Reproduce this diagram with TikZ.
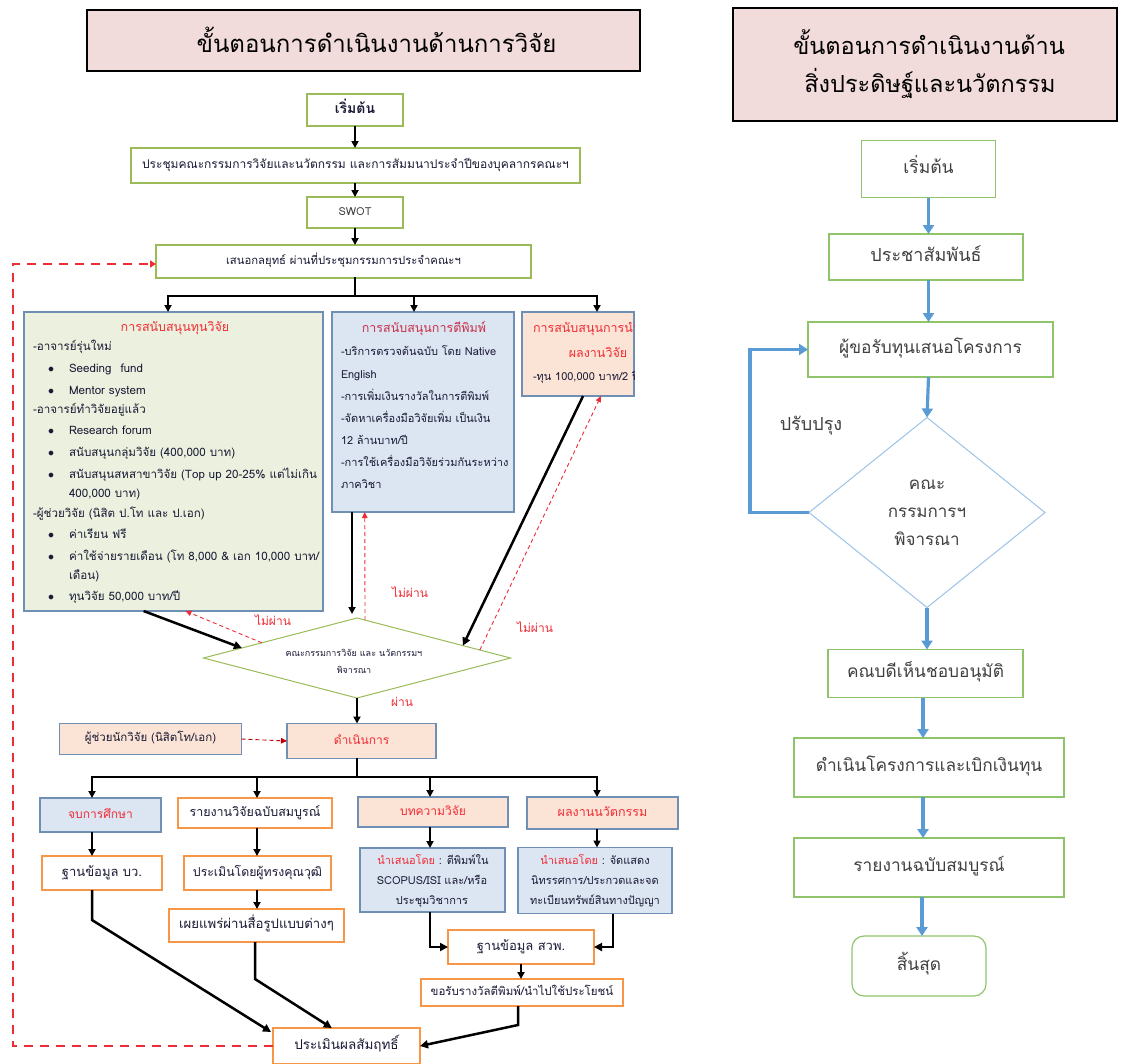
\documentclass[tikz,border=0pt]{standalone}
\usepackage{fontspec}
\setmainfont{Loma}[Script=Thai]
\usetikzlibrary{arrows.meta,shapes.geometric,calc}

\definecolor{pinkfill}{HTML}{F2DCDB}
\definecolor{gfill}{HTML}{EBF1DE}
\definecolor{bfill}{HTML}{DCE6F2}
\definecolor{pfill}{HTML}{FBE4D5}
\definecolor{bborder}{HTML}{6F8FB5}
\definecolor{gborder}{HTML}{9BBB59}
\definecolor{oborder}{HTML}{F79646}
\definecolor{redtxt}{HTML}{F02C36}
\definecolor{crimson}{HTML}{C8304A}
\definecolor{darkred}{HTML}{C00000}
\definecolor{navy}{HTML}{1A1A36}
\definecolor{arrblue}{HTML}{5B9BD5}
\definecolor{rgreen}{HTML}{8FC46A}
\definecolor{diablue}{HTML}{9DC3E6}
\definecolor{graytxt}{HTML}{404040}

% one left-aligned line of body text
\newcommand{\gl}[5][11]{\node[tf=#1, anchor=west, text=navy] (#2) at (#3,#4) {#5};}
% one bullet line of body text (green box)
\newcommand{\bl}[3]{\node[text=navy, font=\fontsize{12}{12}\selectfont] (#1b) at (51,#2) {$\bullet$};\gl[11.6]{#1}{69}{#2}{#3}}

\begin{document}
\begin{tikzpicture}[x=1pt,y=-1pt,
  every node/.style={inner sep=0pt,outer sep=0pt},
  tf/.style={font=\fontsize{#1}{#1}\selectfont, text height={0.5*#1pt}, text depth=0pt},
  tfb/.style={font=\fontsize{#1}{#1}\selectfont\bfseries, text height={0.5*#1pt}, text depth=0pt},
  sz/.style 2 args={minimum width=#1, minimum height=#2},
  gbox/.style={rectangle, draw=gborder, line width=1.1pt, fill=white, text=navy},
  obox/.style={rectangle, draw=oborder, line width=1.1pt, fill=white, text=navy},
  pbox/.style={rectangle, draw=bborder, line width=1.1pt, fill=pfill, text=navy},
  bbox/.style={rectangle, draw=bborder, line width=1.1pt, fill=bfill, text=navy},
  ttl/.style={rectangle, draw=black, line width=2pt, fill=pinkfill, text=black, align=center},
  arr/.style={draw=black, line width=1.8pt, -{Triangle[length=7pt,width=7pt]}},
  ln/.style={draw=black, line width=1.8pt, line cap=rect},
  thk/.style={draw=black, line width=2.5pt, -{Triangle[length=8pt,width=8pt]}},
  rdash/.style={draw=redtxt, line width=0.9pt, dash pattern=on 4pt off 3pt, -{Triangle[length=6pt,width=5.5pt]}},
  loopdash/.style={draw=redtxt, line width=2.8pt, dash pattern=on 9pt off 7pt, -{Triangle[length=6pt,width=7pt]}},
  rbox/.style={rectangle, draw=rgreen, line width=1.2pt, fill=white, text=graytxt},
  barr/.style={draw=arrblue, line width=3.2pt, -{Triangle[length=9pt,width=11pt]}},
]
\useasboundingbox (0,0) rectangle (1123,1063);
\fill[white] (0,0) rectangle (1123,1063);

% ---------------- titles ----------------
\node[ttl, sz={553}{61}, font=\fontsize{24}{24}\selectfont] (tL) at (363.5,40) {\hspace*{26pt}ขั้นตอนการดำเนินงานด้านการวิจัย};
\node[ttl, sz={384}{113}, font=\fontsize{23.5}{38}\selectfont] (tR) at (925,64) {\hspace*{8pt}ขั้นตอนการดำเนินงานด้าน\\\hspace*{10pt}สิ่งประดิษฐ์และนวัตกรรม};

% ---------------- research flow: top ----------------
\node[gbox, tfb=14, sz={96}{32}] (s1) at (355,110) {เริ่มต้น};
\node[gbox, tf=12, sz={449}{35}] (meet) at (355.5,165.5) {ประชุมคณะกรรมการวิจัยและนวัตกรรม และการสัมมนาประจำปีของบุคลากรคณะฯ};
\node[gbox, tf=11, sz={96}{31}, text=graytxt] (swot) at (355,212.5) {SWOT};
\node[gbox, tf=11.3, sz={375}{33}] (strat) at (343.5,261.5) {เสนอกลยุทธ์ ผ่านที่ประชุมกรรมการประจำคณะฯ};

\draw[arr] (s1.south) -- (s1.south |- meet.north);
\draw[arr] (swot.north |- meet.south) -- (swot.north);
\draw[arr] (swot.south) -- (swot.south |- strat.north);

\coordinate (sp) at (355,296);
\coordinate (jG) at (168,296);
\coordinate (jB) at (414,296);
\coordinate (jO) at (597,296);

% ---------------- support boxes ----------------
\node[rectangle, draw=bborder, line width=1.1pt, fill=gfill, sz={299}{299}] (green) at (173.5,461.5) {};
\node[tf=12.5, text=redtxt] (gH) at (175,328) {การสนับสนุนทุนวิจัย};
\gl[11.6]{g1}{33}{348}{-อาจารย์รุ่นใหม่}
\bl{g2}{370}{Seeding\hspace{9pt}fund}
\bl{g3}{392}{Mentor system}
\gl[11.6]{g4}{33}{411}{-อาจารย์ทำวิจัยอยู่แล้ว}
\bl{g5}{432}{Research forum}
\bl{g6}{454}{สนับสนุนกลุ่มวิจัย (400,000 บาท)}
\bl{g7}{476}{สนับสนุนสหสาขาวิจัย (Top up 20-25\% แต่ไม่เกิน}
\gl[11.6]{g8}{69}{495}{400,000 บาท)}
\gl[11.6]{g9}{33}{515}{-ผู้ช่วยวิจัย (นิสิต ป.โท และ ป.เอก)}
\bl{g10}{536}{ค่าเรียน ฟรี}
\bl{g11}{558}{ค่าใช้จ่ายรายเดือน (โท 8,000 \& เอก 10,000 บาท/}
\gl[11.6]{g12}{69}{577}{เดือน)}
\bl{g13}{598}{ทุนวิจัย 50,000 บาท/ปี}

\node[bbox, sz={182}{200}] (blue) at (423,412) {};
\node[tf=12.5, text=crimson] (bH) at (424,329) {การสนับสนุนการตีพิมพ์};
\gl{b1}{341}{353}{-บริการตรวจต้นฉบับ โดย Native}
\gl{b2}{341}{376}{English}
\gl{b3}{341}{398}{-การเพิ่มเงินรางวัลในการตีพิมพ์}
\gl{b4}{341}{420}{-จัดหาเครื่องมือวิจัยเพิ่ม เป็นเงิน}
\gl{b5}{341}{442}{12 ล้านบาท/ปี}
\gl{b6}{341}{464}{-การใช้เครื่องมือวิจัยร่วมกันระหว่าง}
\gl{b7}{341}{486}{ภาควิชา}

\node[pbox, sz={112}{84}] (orange) at (578,354) {};
\begin{scope}
  % the text overruns the narrow box and is cut at its edge
  \clip (orange.south west) rectangle (orange.north east);
  \node[tf=12.5, text=redtxt, anchor=west] (oH1) at (533,329) {การสนับสนุนการนำเสนอ};
  \node[tf=12.5, text=redtxt] (oH2) at (598,354) {ผลงานวิจัย};
  \gl{o1}{533}{378}{-ทุน 100,000 บาท/2 ปี}
\end{scope}

\draw[ln] (strat.south -| sp) -- (sp);
\draw[ln] (jG) -- (jO);
\draw[arr] (jG) -- (jG |- green.north);
\draw[arr] (jB) -- (jB |- blue.north);
\draw[arr] (jO) -- (jO |- orange.north);

% ---------------- committee decision ----------------
\node[diamond, draw=gborder, line width=1pt, fill=white, sz={307}{80}] (dia) at (357,658) {};
\node[text=navy, align=center, font=\fontsize{9}{17}\selectfont] (diat) at (354,661) {คณะกรรมการวิจัย และ นวัตกรรมฯ\\พิจารณา};

\draw[thk] ($(green.south west)!0.4!(green.south east)$) -- ($(dia.west)!0.25!(dia.north)$);
\draw[rdash] ($(dia.west)!0.38!(dia.north)$) -- ($(green.south west)!0.54!(green.south east)$);
\draw[arr] ($(blue.south west)!0.11!(blue.south east)$) -- ($(dia.north)+(-5,-4)$);
\draw[rdash] ($(dia.north)+(8,2)$) -- ($(blue.south west)!0.18!(blue.south east)$);
\draw[thk] ($(orange.south west)!0.545!(orange.south east)$) -- ($(dia.north)!0.69!(dia.east)$);
\draw[rdash] ($(dia.north)!0.8!(dia.east)$) -- ($(orange.south west)!0.705!(orange.south east)$);

\node[tf=12, text=redtxt] (nf1) at (410,594) {ไม่ผ่าน};
\node[tf=12, text=redtxt] (nf2) at (273,622) {ไม่ผ่าน};
\node[tf=12, text=redtxt] (nf3) at (535,629) {ไม่ผ่าน};
\node[tf=12, text=redtxt] (ok) at (402,703) {ผ่าน};

% ---------------- execution ----------------
\node[pbox, tf=12, sz={149}{35}, text=redtxt] (exec) at (361.5,741) {ดำเนินการ};
\node[pbox, tf=11.5, sz={182}{31}] (asst) at (150.5,739) {ผู้ช่วยนักวิจัย (นิสิตโท/เอก)};
\draw[arr] (dia.south) -- (dia.south |- exec.north);
\draw[rdash, draw=darkred] (asst.east) -- (exec.west);

\coordinate (sp2) at (357,777);
\coordinate (k1) at (92,777);
\coordinate (k2) at (257,777);
\coordinate (k3) at (430,777);
\coordinate (k4) at (597,777);
\draw[ln] (dia.south |- exec.south) -- (sp2);
\draw[ln] (k1) -- (k4);

\node[bbox, tf=12, sz={121}{34}, text=redtxt] (grad) at (100.5,815) {จบการศึกษา};
\node[obox, tf=12.5, sz={154}{30}] (rep) at (255,813) {รายงานวิจัยฉบับสมบูรณ์};
\node[pbox, tf=12, sz={150}{30}, text=redtxt] (art) at (433,812) {บทความวิจัย};
\node[pbox, tf=12.5, sz={151}{32}, text=redtxt] (inno) at (602.5,813) {ผลงานนวัตกรรม};

\draw[arr] (k1) -- (k1 |- grad.north);
\draw[arr] (k2) -- (k2 |- rep.north);
\draw[arr] (k3) -- (k3 |- art.north);
\draw[arr] (k4) -- (k4 |- inno.north);

\node[obox, tf=13, sz={120}{34}] (dbbw) at (102,873) {ฐานข้อมูล บว.};
\node[obox, tf=12.3, sz={147}{34}] (eval) at (257.5,873) {ประเมินโดยผู้ทรงคุณวุฒิ};
\node[bbox, sz={145}{64}] (artb) at (432.5,880) {};
\node[tf=11, text=navy] (ab1) at (433,862) {{\color{redtxt}นำเสนอโดย} : ตีพิมพ์ใน};
\node[tf=11, text=navy] (ab2) at (432,882) {SCOPUS/ISI และ/หรือ};
\node[tf=11, text=navy] (ab3) at (432,902) {ประชุมวิชาการ};
\node[bbox, sz={154}{66}] (innob) at (595,880.5) {};
\node[tf=11, text=navy] (ib1) at (595,862) {{\color{redtxt}นำเสนอโดย} : จัดแสดง};
\node[tf=11, text=navy] (ib2) at (595,882) {นิทรรศการ/ประกวดและจด};
\node[tf=11, text=navy] (ib3) at (595,902) {ทะเบียนทรัพย์สินทางปัญญา};

\draw[arr] (k1 |- grad.south) -- (k1 |- dbbw.north);
\draw[arr] (k2 |- rep.south) -- (k2 |- eval.north);
\draw[arr] (k3 |- art.south) -- (k3 |- artb.north);
\draw[arr] (k4 |- inno.south) -- (k4 |- innob.north);

\node[obox, tf=13.2, sz={175}{33}] (pub) at (256.5,925.5) {เผยแพร่ผ่านสื่อรูปแบบต่างๆ};
\node[obox, tf=13, sz={146}{34}] (dbsw) at (521,947) {ฐานข้อมูล สวพ.};
\node[obox, tf=11.5, sz={202}{27}] (award) at (522,992.5) {ขอรับรางวัลตีพิมพ์/นำไปใช้ประโยชน์};
\node[obox, tf=13.5, sz={147}{36}] (outc) at (346.5,1046) {ประเมินผลสัมฤทธิ์};

\draw[arr] (k2 |- eval.south) -- (k2 |- pub.north);
\draw[thk] (k3 |- artb.south) |- (dbsw.west);
\draw[thk] ($(innob.south)+(18,0)$) |- (dbsw.east);
\draw[arr] (dbsw.south) -- (dbsw.south |- award.north);
\draw[thk] ($(award.south)+(-4,0)$) -- ++(0,19) -- (outc.east);
\draw[thk] ($(pub.south)+(-1.5,0)$) -- ++(0,37) -- ($(outc.north west)!0.4!(outc.north east)$);
\draw[thk] ($(dbbw.south)+(-10,0)$) -- ++(0,30) -- ($(outc.north west)+(-2,4)$);

% feedback loop back to the strategy step
\draw[loopdash] (outc.west) -| (13,264) -- ($(strat.west)+(0,2.5)$);

% ---------------- invention / innovation flow ----------------
\node[rbox, tf=17.5, sz={134}{57}] (rs) at (928.5,169) {เริ่มต้น};
\node[rbox, tf=18, sz={194}{46}] (rp) at (926,257) {ประชาสัมพันธ์};
\node[rbox, tf=17.3, sz={245}{55}] (ra) at (930.5,349.5) {ผู้ขอรับทุนเสนอโครงการ};
\node[diamond, draw=diablue, line width=1pt, fill=white, sz={236}{190}] (rd) at (927,512.5) {};
\node[text=graytxt, align=center, font=\fontsize{17}{28}\selectfont] (rdt) at (927,513) {คณะ\\กรรมการฯ\\พิจารณา};
\node[rbox, tf=17.3, sz={195}{48}] (rc) at (925.5,673.5) {คณบดีเห็นชอบอนุมัติ};
\node[rbox, tf=17.3, sz={270}{59}] (rx) at (929,767.5) {ดำเนินโครงการและเบิกเงินทุน};
\node[rbox, tf=17.3, sz={270}{59}] (rr) at (929,867.5) {รายงานฉบับสมบูรณ์};
\node[rbox, tf=17.3, sz={134}{60}, rounded corners=12pt] (re) at (919,966) {สิ้นสุด};
\node[tf=18, text=graytxt] (rfix) at (811,426) {ปรับปรุง};

\draw[barr] (rs.south) -- (rs.south |- rp.north);
\draw[barr] (rs.south |- rp.south) -- (rs.south |- ra.north);
\draw[barr] (rs.south |- ra.south) -- (rd.north);
\draw[barr] (rd.south) -- (rd.south |- rc.north);
\draw[barr] ($(rc.south)+(-2.5,0)$) -- ($(rc.south |- rx.north)+(-2.5,0)$);
\draw[barr] ($(rx.south)+(-6,0)$) -- ($(rx.south |- rr.north)+(-6,0)$);
\draw[barr] ($(rr.south)+(-7,0)$) -- ($(rr.south |- re.north)+(-7,0)$);
\draw[barr] (rd.west) -- (750,512.5) |- (ra.west);

\end{tikzpicture}
\end{document}
